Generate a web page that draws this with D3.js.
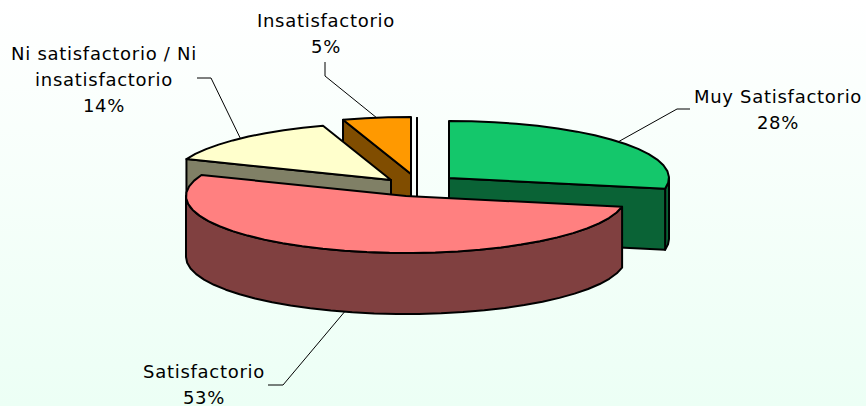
<!DOCTYPE html>
<html><head><meta charset="utf-8">
<script src="https://cdn.jsdelivr.net/npm/d3@7"></script>
<style>html,body{margin:0;padding:0;background:#fff}svg{display:block}</style>
</head><body><svg id="c" width="866" height="406"></svg>
<script>
// data
const categories = ["Muy Satisfactorio","Satisfactorio","Ni satisfactorio / Ni insatisfactorio","Insatisfactorio",""];
const values = [28,53,14,5,0];
const labelLines = [["Muy Satisfactorio"],["Satisfactorio"],["Ni satisfactorio / Ni","insatisfactorio"],["Insatisfactorio"],[]];
const percentLabels = ["28%","53%","14%","5%",""];
// styling / layout
const topColors = ["#14c76b","#ff8080","#ffffcc","#ff9900","#ffffff"];
const sideColors = ["#0a6336","#804040","#808066","#804d00","#808080"];
const centers = [[449,178],[406,196],[391,180],[411,174],[417,175]];
const labelPos = [[778,103],[204,378],[104,60],[326,27]];
const leaderElbows = [[[677,109],[690,109]],[[283,385],[268,385]],[[211,78],[197,78]],[[325,76],[325,62]]];
const drawOrder = [3,4,2,0,1];
const rx=220, ry=57, depth=61, W=866, H=406, fontSize=18, spacing=0.72;

const svg=d3.select("#c");
const grad=svg.append("defs").append("linearGradient").attr("id","bg").attr("x1",0).attr("y1",0).attr("x2",0).attr("y2",1);
grad.append("stop").attr("offset","0%").attr("stop-color","#ffffff");
grad.append("stop").attr("offset","100%").attr("stop-color","#ecfff5");
svg.append("rect").attr("width",W).attr("height",H).attr("fill","url(#bg)");

const arcs=d3.pie().sort(null).value(d=>d)(values);
const px=(c,a,dz=0)=>[c[0]+rx*Math.sin(a), c[1]-ry*Math.cos(a)+dz];
const line=d3.line();
const rim=(c,a0,a1,dz=0)=>{const n=Math.max(1,Math.ceil((a1-a0)/(Math.PI/30)));
  return d3.range(n+1).map(i=>px(c,a0+(a1-a0)*i/n,dz));};
const g=svg.append("g").attr("stroke","#000").attr("stroke-width",2).attr("stroke-linejoin","round");

function face(pts,fill){g.append("path").attr("d",line(pts)+"Z").attr("fill",fill);}
drawOrder.forEach(i=>{
  const c=centers[i],a=arcs[i],a0=a.startAngle,a1=a.endAngle;
  const side=sideColors[i];
  // outer wall: visible for angles between 90 and 270 degrees
  const s=Math.max(a0,Math.PI/2), e=Math.min(a1,3*Math.PI/2);
  if(e>s){face(rim(c,s,e).concat(rim(c,s,e,depth).reverse()),side);}
  // cut faces that look towards the viewer
  const faces=[];
  if(a0>Math.PI) faces.push(a0);
  if(a1>0&&a1<Math.PI) faces.push(a1);
  faces.forEach(t=>{const p=px(c,t);
    face([c,p,[p[0],p[1]+depth],[c[0],c[1]+depth]],side);});
  // top
  face([c].concat(rim(c,a0,a1)),topColors[i]);
});

// leaders
const lg=svg.append("g").attr("fill","none").attr("stroke","#000").attr("stroke-width",1);
leaderElbows.forEach((el,i)=>{
  const a=arcs[i],mid=(a.startAngle+a.endAngle)/2;
  const low=Math.cos(mid)<0;
  lg.append("path").attr("d",line([px(centers[i],mid,low?depth:0),...el]));
});

// labels
const tg=svg.append("g").attr("font-family","'DejaVu Sans'").attr("font-size",fontSize).attr("letter-spacing",spacing).attr("fill","#000").attr("text-anchor","middle");
labelPos.forEach((p,i)=>{
  const lines=labelLines[i].concat([percentLabels[i]]);
  const t=tg.append("text");
  lines.forEach((s,j)=>t.append("tspan").attr("x",p[0]).attr("y",p[1]+j*26).text(s));
});
</script></body></html>
